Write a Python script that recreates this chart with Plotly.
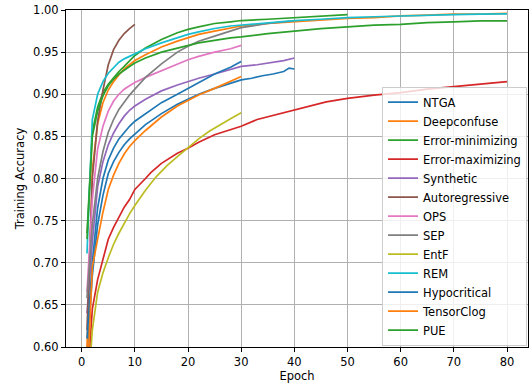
import plotly.graph_objects as go

# ---- data ----
names = ["NTGA", "Deepconfuse", "Error-minimizing", "Error-maximizing", "Synthetic",
         "Autoregressive", "OPS", "SEP", "EntF", "REM", "Hypocritical", "TensorClog", "PUE"]
colors = ["#1f77b4", "#ff7f0e", "#2ca02c", "#d62728", "#9467bd", "#8c564b", "#e377c2",
          "#7f7f7f", "#bcbd22", "#17becf", "#1f77b4", "#ff7f0e", "#2ca02c"]

ntga_x = [1, 2, 3, 4, 5, 6, 7, 8, 9, 10, 12, 15, 18, 20, 22, 25, 28, 30, 32, 34, 36, 38, 39, 40]
ntga_y = [0.59, 0.685, 0.745, 0.78, 0.806, 0.82, 0.831, 0.84, 0.847, 0.853, 0.864, 0.877, 0.888,
          0.894, 0.90, 0.907, 0.913, 0.917, 0.919, 0.922, 0.924, 0.927, 0.931, 0.930]

deep_x = [1, 2, 3, 4, 5, 6, 7, 8, 9, 10, 12, 15, 18, 20, 22, 25, 28, 30, 35, 40, 45, 50, 55, 60, 65, 70, 75, 80]
deep_y = [0.60, 0.81, 0.865, 0.89, 0.905, 0.915, 0.923, 0.93, 0.935, 0.94, 0.947, 0.956, 0.963,
          0.967, 0.971, 0.975, 0.979, 0.981, 0.984, 0.986, 0.988, 0.99, 0.991, 0.993, 0.994,
          0.995, 0.995, 0.996]

emin_x = [1, 2, 3, 4, 5, 6, 7, 8, 9, 10, 12, 15, 18, 20, 22, 25, 28, 30, 35, 40, 45, 50]
emin_y = [0.735, 0.855, 0.885, 0.902, 0.912, 0.92, 0.927, 0.933, 0.94, 0.946, 0.955, 0.965, 0.973,
          0.977, 0.98, 0.984, 0.986, 0.9875, 0.989, 0.991, 0.993, 0.9945]

emax_x = [1, 2, 3, 4, 5, 6, 7, 8, 9, 10, 12, 13, 15, 18, 20, 22, 25, 28, 30, 33, 36, 40, 43, 46,
          50, 55, 60, 65, 70, 75, 80]
emax_y = [0.55, 0.645, 0.68, 0.705, 0.728, 0.742, 0.755, 0.766, 0.775, 0.787, 0.80, 0.807, 0.818,
          0.83, 0.836, 0.843, 0.852, 0.858, 0.862, 0.87, 0.875, 0.881, 0.886, 0.891, 0.895, 0.899,
          0.902, 0.906, 0.909, 0.912, 0.915]

syn_x = [1, 2, 3, 4, 5, 6, 7, 8, 9, 10, 12, 15, 18, 20, 22, 25, 28, 30, 33, 35, 38, 40]
syn_y = [0.64, 0.725, 0.79, 0.82, 0.84, 0.854, 0.865, 0.874, 0.881, 0.886, 0.894, 0.904, 0.911,
         0.915, 0.919, 0.924, 0.929, 0.933, 0.935, 0.937, 0.940, 0.943]

auto_x = [1, 2, 3, 4, 5, 6, 7, 8, 9, 10]
auto_y = [0.62, 0.80, 0.868, 0.905, 0.935, 0.953, 0.964, 0.972, 0.978, 0.983]

ops_x = [1, 2, 3, 4, 5, 6, 7, 8, 9, 10, 12, 15, 18, 20, 22, 25, 28, 30]
ops_y = [0.665, 0.775, 0.835, 0.862, 0.88, 0.892, 0.90, 0.906, 0.91, 0.914, 0.92, 0.928, 0.936,
         0.941, 0.945, 0.95, 0.954, 0.958]

sep_x = [1, 2, 3, 4, 5, 6, 7, 8, 9, 10, 12, 15, 18, 20, 22, 25, 28, 30, 35, 40]
sep_y = [0.658, 0.745, 0.80, 0.832, 0.855, 0.87, 0.882, 0.891, 0.899, 0.906, 0.92, 0.936, 0.95,
         0.957, 0.963, 0.969, 0.975, 0.979, 0.984, 0.987]

entf_x = [1, 2, 3, 4, 5, 6, 7, 8, 9, 10, 12, 14, 16, 18, 20, 22, 24, 26, 28, 30]
entf_y = [0.53, 0.62, 0.665, 0.688, 0.706, 0.722, 0.735, 0.747, 0.758, 0.768, 0.786, 0.802, 0.815,
          0.826, 0.837, 0.847, 0.856, 0.864, 0.871, 0.878]

rem_x = [1, 2, 3, 4, 5, 6, 7, 8, 9, 10, 12, 15, 18, 20, 22, 25, 28, 30, 35, 40, 45, 50, 55, 60, 65, 70, 75, 80]
rem_y = [0.711, 0.87, 0.90, 0.915, 0.925, 0.932, 0.938, 0.942, 0.945, 0.948, 0.954, 0.961, 0.967,
         0.971, 0.974, 0.978, 0.981, 0.982, 0.985, 0.9875, 0.989, 0.991, 0.992, 0.993, 0.994,
         0.9945, 0.995, 0.9955]

hypo_x = [1, 2, 3, 4, 5, 6, 7, 8, 9, 10, 12, 15, 18, 20, 22, 25, 28, 30]
hypo_y = [0.61, 0.70, 0.765, 0.80, 0.822, 0.836, 0.847, 0.855, 0.862, 0.868, 0.877, 0.89, 0.90,
          0.907, 0.914, 0.924, 0.932, 0.939]

tclog_x = [1, 2, 3, 4, 5, 6, 7, 8, 9, 10, 12, 15, 18, 20, 22, 25, 28, 30]
tclog_y = [0.55, 0.695, 0.728, 0.76, 0.787, 0.804, 0.818, 0.829, 0.838, 0.845, 0.857, 0.873, 0.886,
           0.893, 0.899, 0.907, 0.915, 0.921]

pue_x = [1, 2, 3, 4, 5, 6, 7, 8, 9, 10, 12, 15, 18, 20, 22, 25, 28, 30, 35, 40, 45, 50, 55, 60, 65, 70, 75, 80]
pue_y = [0.728, 0.85, 0.88, 0.898, 0.91, 0.918, 0.924, 0.929, 0.933, 0.937, 0.943, 0.95, 0.955,
         0.958, 0.961, 0.964, 0.967, 0.968, 0.972, 0.975, 0.978, 0.98, 0.982, 0.983, 0.985, 0.986,
         0.987, 0.987]

xs = [ntga_x, deep_x, emin_x, emax_x, syn_x, auto_x, ops_x, sep_x, entf_x, rem_x, hypo_x, tclog_x, pue_x]
ys = [ntga_y, deep_y, emin_y, emax_y, syn_y, auto_y, ops_y, sep_y, entf_y, rem_y, hypo_y, tclog_y, pue_y]

x_ticks = [0, 10, 20, 30, 40, 50, 60, 70, 80]
y_ticks = [0.60, 0.65, 0.70, 0.75, 0.80, 0.85, 0.90, 0.95, 1.00]

FONT = "DejaVu Sans"
FS = 11.5

fig = go.Figure()
for n, c, x, y in zip(names, colors, xs, ys):
    fig.add_trace(go.Scatter(x=x, y=y, mode="lines", name=n,
                             line=dict(color=c, width=1.7)))

axis_common = dict(showline=True, linecolor="black", linewidth=1, mirror=True,
                   ticks="outside", ticklen=4, tickcolor="black", tickwidth=1,
                   showgrid=True, gridcolor="#b0b0b0", gridwidth=0.7, zeroline=False,
                   automargin=False,
                   tickfont=dict(family=FONT, size=FS, color="black"))

fig.update_layout(
    width=531, height=386,
    margin=dict(l=66, r=3, t=10, b=39),
    plot_bgcolor="white", paper_bgcolor="white",
    font=dict(family=FONT, size=FS, color="black"),
    xaxis=dict(range=[-2.95, 83.95], tickvals=x_ticks,
               title=dict(text="Epoch", font=dict(family=FONT, size=FS), standoff=4),
               **axis_common),
    yaxis=dict(range=[0.60, 1.00], tickvals=y_ticks, tickformat=".2f",
               title=dict(text="Training Accuracy", font=dict(family=FONT, size=FS), standoff=6),
               **axis_common),
    legend=dict(x=0.684, y=0.004, xanchor="left", yanchor="bottom",
                bgcolor="rgba(255,255,255,0.8)", bordercolor="#cccccc", borderwidth=1,
                font=dict(family=FONT, size=FS), itemwidth=30, tracegroupgap=0),
    showlegend=True,
)

fig.write_html("out.html", post_script="document.body.style.margin='0';",
               config={"displayModeBar": False})
